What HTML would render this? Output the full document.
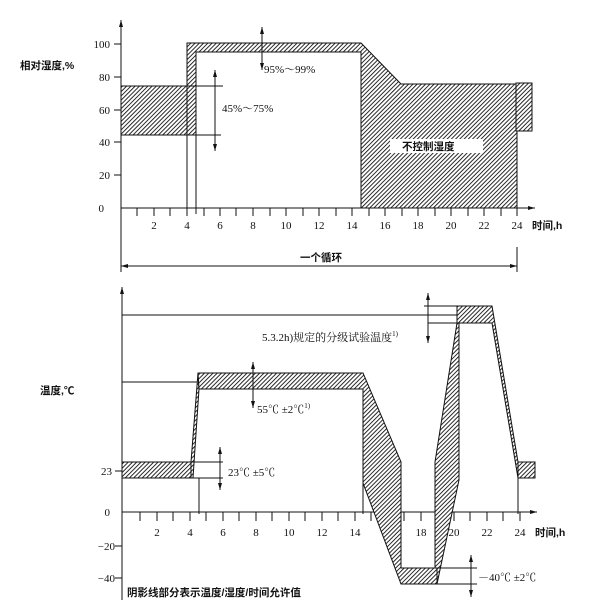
<!DOCTYPE html>
<html><head><meta charset="utf-8"><style>
html,body{margin:0;padding:0;background:#fff;}
svg{display:block;}
text{font-family:"Liberation Serif","Noto Serif CJK SC",serif;font-size:11px;fill:#111;}
.c{font-family:"Liberation Sans","Noto Sans CJK SC",sans-serif;font-weight:bold;font-size:10.5px;}
</style></head><body>
<svg width="600" height="616" viewBox="0 0 600 616" xmlns="http://www.w3.org/2000/svg">
<defs>
<pattern id="h" patternUnits="userSpaceOnUse" width="3" height="3" patternTransform="rotate(45)">
<rect width="3" height="3" fill="#fff"/><line x1="0" y1="0" x2="0" y2="3" stroke="#111" stroke-width="1.8"/>
</pattern>
<marker id="a" markerWidth="8" markerHeight="8" refX="7" refY="4" orient="auto"><path d="M0,2 L7,4 L0,6 z" fill="#111"/></marker>
</defs>
<g stroke="#111" stroke-width="1" fill="none">
<line x1="121" y1="272" x2="121" y2="20" marker-end="url(#a)"/>
<line x1="121" y1="208" x2="535" y2="208" marker-end="url(#a)"/>
<path d="M114 44H121M114 77H121M114 110H121M114 142H121M114 175H121"/>
<path d="M137 208v8M154 208v8M170 208v8M187 208v8M204 208v8M220 208v8M236 208v8M253 208v8M270 208v8M286 208v8M303 208v8M319 208v8M336 208v8M352 208v8M369 208v8M385 208v8M402 208v8M418 208v8M435 208v8M451 208v8M468 208v8M484 208v8M501 208v8M517 208v8"/>
</g>
<g stroke="#111" stroke-width="1" fill="url(#h)">
<rect x="121" y="86" width="75" height="49"/>
<path d="M187 86V43H361L401 84H517V208H361V52H196V86H187Z"/>
<rect x="516" y="83" width="16" height="48"/>
</g>
<g stroke="#111" stroke-width="1" fill="none">
<line x1="187" y1="86" x2="187" y2="214"/><line x1="196" y1="135" x2="196" y2="214"/>
<line x1="196" y1="86" x2="223" y2="86"/><line x1="196" y1="135" x2="221" y2="135"/>
<line x1="215" y1="110" x2="215" y2="70" marker-end="url(#a)"/><line x1="215" y1="110" x2="215" y2="151" marker-end="url(#a)"/>
<line x1="262" y1="52" x2="262" y2="27" marker-end="url(#a)"/><line x1="262" y1="52" x2="262" y2="70" marker-end="url(#a)"/>
<line x1="517" y1="247" x2="517" y2="272"/>
<line x1="300" y1="266" x2="121" y2="266" marker-end="url(#a)"/><line x1="300" y1="266" x2="517" y2="266" marker-end="url(#a)"/>
</g>
<rect x="390" y="139" width="93" height="14" fill="#fff"/>
<text class="c" x="402" y="150">不控制湿度</text>
<text x="264" y="73">95%～99%</text>
<text x="222" y="112">45%～75%</text>
<text class="c" x="20" y="69">相对湿度,%</text>
<g text-anchor="end"><text x="110" y="48">100</text><text x="110" y="81">80</text><text x="110" y="114">60</text><text x="110" y="146">40</text><text x="110" y="179">20</text><text x="104" y="212">0</text></g>
<g text-anchor="middle"><text x="154" y="229">2</text><text x="187" y="229">4</text><text x="220" y="229">6</text><text x="253" y="229">8</text><text x="286" y="229">10</text><text x="319" y="229">12</text><text x="352" y="229">14</text><text x="385" y="229">16</text><text x="418" y="229">18</text><text x="451" y="229">20</text><text x="484" y="229">22</text><text x="517" y="229">24</text></g>
<text class="c" x="532" y="229">时间,h</text>
<text class="c" x="300" y="261">一个循环</text>

<g stroke="#111" stroke-width="1" fill="none">
<line x1="122" y1="600" x2="122" y2="287" marker-end="url(#a)"/>
<line x1="122" y1="512" x2="537" y2="512" marker-end="url(#a)"/>
<path d="M115 471H122M115 546H122M115 578H122"/>
<path d="M140 512v9M157 512v9M173 512v9M190 512v9M206 512v9M223 512v9M239 512v9M256 512v9M272 512v9M289 512v9M305 512v9M322 512v9M338 512v9M355 512v9M371 512v9M388 512v9M404 512v9M421 512v9M437 512v9M454 512v9M470 512v9M487 512v9M503 512v9M520 512v9"/>
<line x1="122" y1="315" x2="457" y2="315"/>
<line x1="122" y1="382" x2="198" y2="382"/>
</g>
<g stroke="#111" stroke-width="1" fill="url(#h)">
<rect x="122" y="462" width="69" height="16"/>
<path d="M191 462L198 373L199 389L193 478H191Z"/>
<path d="M198 373H363L401 462V568H437V584H401L363 483V389H199Z"/>
<path d="M437 584V568H435V462L457 323V306H492L518 462V478L492 323H459V480Z"/>
<rect x="518" y="462" width="17" height="16"/>
</g>
<g stroke="#111" stroke-width="1" fill="none">
<line x1="199" y1="478" x2="199" y2="514"/><line x1="363" y1="480" x2="363" y2="514"/><line x1="518" y1="478" x2="518" y2="514"/>
<line x1="424" y1="306" x2="457" y2="306"/><line x1="428" y1="323" x2="459" y2="323"/>
<line x1="428" y1="314" x2="428" y2="293" marker-end="url(#a)"/><line x1="428" y1="314" x2="428" y2="343" marker-end="url(#a)"/>
<line x1="253" y1="381" x2="253" y2="362" marker-end="url(#a)"/><line x1="253" y1="381" x2="253" y2="408" marker-end="url(#a)"/>
<line x1="191" y1="462" x2="223" y2="462"/><line x1="191" y1="478" x2="223" y2="478"/>
<line x1="220" y1="470" x2="220" y2="447" marker-end="url(#a)"/><line x1="220" y1="470" x2="220" y2="490" marker-end="url(#a)"/>
<line x1="437" y1="568" x2="477" y2="568"/><line x1="437" y1="584" x2="477" y2="584"/>
<line x1="471" y1="576" x2="471" y2="555" marker-end="url(#a)"/><line x1="471" y1="576" x2="471" y2="597" marker-end="url(#a)"/>
</g>
<text x="262" y="341" font-size="10.5">5.3.2h)规定的分级试验温度<tspan font-size="7" dy="-5">1)</tspan></text>
<text x="257" y="413">55℃ ±2℃<tspan font-size="7" dy="-5">1)</tspan></text>
<text x="228" y="476">23℃ ±5℃</text>
<text x="478" y="581">－40℃ ±2℃</text>
<text class="c" x="40" y="394">温度,℃</text>
<g text-anchor="end"><text x="112" y="475">23</text><text x="110" y="516">0</text><text x="115" y="550">−20</text><text x="115" y="582">−40</text></g>
<g text-anchor="middle"><text x="157" y="536">2</text><text x="190" y="536">4</text><text x="223" y="536">6</text><text x="256" y="536">8</text><text x="289" y="536">10</text><text x="322" y="536">12</text><text x="355" y="536">14</text><text x="421" y="536">18</text><text x="454" y="536">20</text><text x="487" y="536">22</text><text x="520" y="536">24</text></g>
<text class="c" x="535" y="536">时间,h</text>
<text class="c" x="127" y="596">阴影线部分表示温度/湿度/时间允许值</text>
</svg>
</body></html>
